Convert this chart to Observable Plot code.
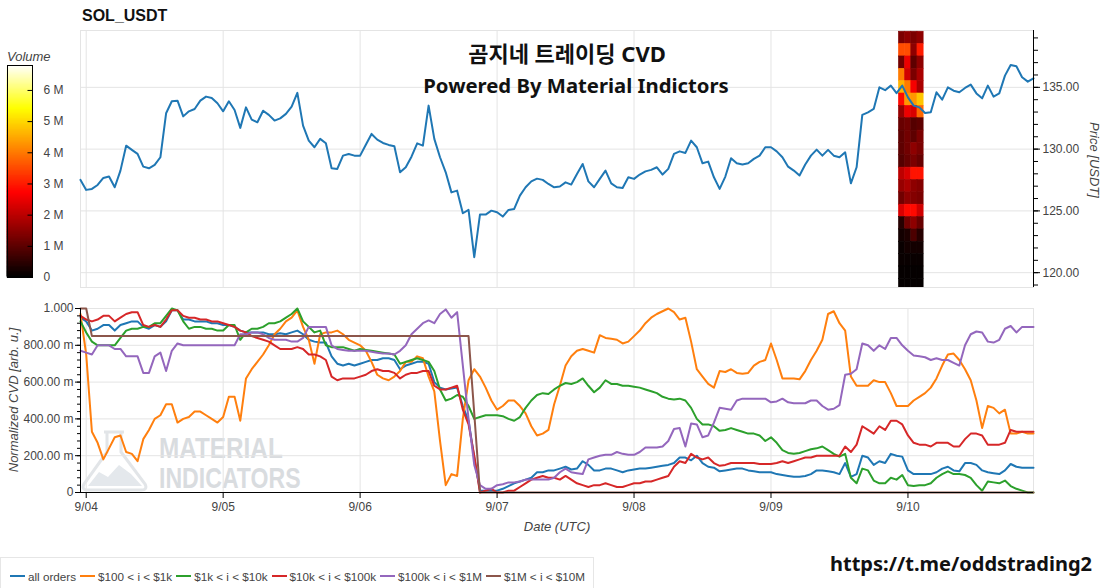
<!DOCTYPE html>
<html><head><meta charset="utf-8">
<script src="https://cdn.jsdelivr.net/npm/d3@7"></script>
<script src="https://cdn.jsdelivr.net/npm/@observablehq/plot@0.6"></script>
<style>
body{margin:0;background:#fff;}
#wrap{position:relative;width:1106px;height:588px;overflow:hidden;font-family:"Liberation Sans",Arial,sans-serif;background:#fff;}
#wrap > *{position:absolute;}
.t{white-space:nowrap;line-height:1;}
.leg{display:flex;align-items:center;font-size:11.7px;color:#444;white-space:nowrap;width:max-content;}
.leg span{flex:0 0 auto;}
.leg span.sw{display:inline-block;width:15px;height:2px;margin-right:3px;}
.leg span.lb{margin-right:4px;}
</style></head><body>
<div id="wrap">
  <div id="cbar" style="left:0;top:0;"></div>
  <div id="topchart" style="left:0;top:0;"></div>
  <div id="wm" style="left:0;top:0;width:320px;height:500px;">
    <svg width="320" height="500" style="position:absolute;left:0;top:0">
      <path d="M104,432 L124,432 M107,432 L107,452 L84,484 Q81,490 88,490 L141,490 Q148,490 145,484 L121,452 L121,432" fill="none" stroke="#e2e5e8" stroke-width="3"/>
      <path d="M88,486 L99,472 L108,477 L119,465 L131,474 L142,486 Z" fill="#e4e8ec"/>
    </svg>
    <div class="t" style="position:absolute;left:159px;top:431px;font:bold 30px 'Liberation Sans',Arial;color:#d9dcdf;transform:scaleX(0.81);transform-origin:0 0;">MATERIAL</div>
    <div class="t" style="position:absolute;left:159px;top:461px;font:bold 30px 'Liberation Sans',Arial;color:#d9dcdf;transform:scaleX(0.77);transform-origin:0 0;">INDICATORS</div>
  </div>
  <div id="botchart" style="left:0;top:295px;"></div>
  <div class="t" style="left:82px;top:8px;font-weight:bold;font-size:16px;color:#111;">SOL_USDT</div>
  <div class="t" style="left:0;width:1134px;top:42px;text-align:center;font-family:'Noto Sans','Noto Sans CJK KR',sans-serif;font-weight:bold;font-size:22px;color:#111;">곰지네 트레이딩 CVD</div>
  <div class="t" style="left:0;width:1152px;top:75px;text-align:center;font-family:'Noto Sans','Noto Sans CJK KR',sans-serif;font-weight:bold;font-size:20.3px;color:#111;">Powered By Material Indictors</div>
  <div class="t" style="left:7px;top:50px;font-style:italic;font-size:13px;color:#444;">Volume</div>
  <div class="t" style="left:1094px;top:160px;transform:translate(-50%,-50%) rotate(90deg);font-style:italic;font-size:13px;color:#444;">Price [USDT]</div>
  <div class="t" style="left:13px;top:400px;transform:translate(-50%,-50%) rotate(-90deg);font-style:italic;font-size:13px;color:#444;">Normalized CVD [arb. u.]</div>
  <div class="t" style="left:557px;top:520px;transform:translateX(-50%);font-style:italic;font-size:13px;color:#444;">Date (UTC)</div>
  <div id="legend" style="left:0;top:557px;width:594px;height:34px;border:1px solid #e6e6e6;box-sizing:border-box;"></div>
  <div class="t" style="left:830px;top:554px;font-family:'Noto Sans',sans-serif;font-weight:bold;font-size:20px;color:#111;">https://t.me/oddstrading2</div>
</div>
<script>
// ---------- DATA ----------
const startUTC = Date.UTC(2024, 8, 3, 23); // first hourly sample: 9/03 23:00 UTC
const dayTicks = ["2024-09-04","2024-09-05","2024-09-06","2024-09-07","2024-09-08","2024-09-09","2024-09-10"];

const price = [127.51,126.70,126.78,127.10,127.67,127.78,126.91,128.26,130.28,129.94,
129.61,128.58,128.45,128.72,129.34,132.90,133.87,133.92,132.65,133.06,
133.25,133.92,134.25,134.14,133.71,133.06,133.87,133.17,131.72,133.38,
132.39,132.17,133.11,132.77,132.31,132.49,132.85,133.44,134.55,131.90,
130.69,130.15,130.83,130.47,128.45,128.40,129.47,129.61,129.47,129.47,
130.36,131.23,130.77,130.50,130.34,130.23,128.12,128.53,129.39,130.47,
130.28,133.52,130.83,129.34,128.12,126.50,126.64,124.81,125.08,121.25,
124.70,124.70,125.02,124.89,124.54,125.08,125.16,126.24,126.91,127.39,
127.61,127.51,127.18,126.91,126.97,127.31,127.13,127.99,128.80,127.39,
126.91,127.59,128.26,127.23,126.91,126.86,127.72,127.59,127.94,128.20,
128.32,128.53,127.94,128.40,129.61,129.82,129.69,130.69,130.15,128.85,
128.99,127.72,126.78,127.78,129.26,128.85,128.75,128.85,129.21,129.47,
130.15,130.15,129.82,129.34,128.58,128.26,127.86,128.75,129.47,129.96,
129.47,129.94,129.47,129.34,129.74,127.23,128.53,132.77,132.98,133.25,
135.00,134.77,135.14,134.53,135.14,134.19,133.52,133.38,132.93,132.98,
134.60,134.00,135.00,134.73,134.60,134.95,135.22,134.51,134.11,135.14,
134.25,134.51,135.95,136.81,136.70,135.81,135.46,135.73];

const cvdAll = [.95,.93,.88,.89,.91,.91,.88,.91,.92,.93,
.93,.90,.89,.91,.90,.93,.99,.99,.94,.94,
.93,.93,.93,.92,.92,.91,.91,.90,.88,.87,
.87,.87,.87,.86,.86,.865,.86,.87,.88,.86,
.83,.82,.815,.815,.74,.70,.69,.70,.69,.70,
.71,.72,.72,.73,.73,.72,.67,.69,.70,.71,
.71,.70,.60,.57,.56,.565,.57,.47,.39,.19,
.01,.01,.01,.01,.02,.035,.05,.06,.07,.08,
.11,.11,.12,.12,.13,.14,.125,.13,.17,.15,
.12,.12,.13,.13,.12,.11,.12,.125,.13,.13,
.135,.14,.145,.15,.16,.19,.19,.175,.20,.16,
.14,.135,.115,.12,.125,.13,.13,.12,.115,.11,
.11,.11,.10,.095,.09,.085,.085,.09,.10,.12,
.12,.115,.11,.10,.16,.085,.10,.20,.19,.15,
.17,.16,.21,.20,.195,.12,.10,.10,.10,.10,
.11,.13,.14,.12,.115,.16,.16,.15,.12,.11,
.105,.10,.12,.155,.14,.135,.135,.135];

const cvd100 = [.97,.75,.33,.27,.18,.24,.30,.31,.22,.21,
.17,.29,.34,.40,.42,.48,.48,.38,.40,.41,
.44,.44,.42,.40,.38,.41,.52,.52,.39,.62,
.67,.71,.75,.80,.86,.89,.93,.95,.99,.90,
.83,.70,.86,.87,.87,.88,.86,.83,.815,.80,
.77,.71,.64,.62,.61,.63,.66,.71,.71,.74,
.73,.63,.55,.28,.04,.10,.09,.40,.61,.67,
.63,.57,.50,.45,.47,.50,.50,.47,.43,.36,
.31,.32,.34,.48,.58,.69,.74,.77,.78,.77,
.76,.855,.84,.835,.83,.81,.82,.85,.88,.92,
.95,.97,.985,1.0,.98,.94,.95,.82,.67,.63,
.59,.57,.66,.655,.67,.65,.645,.65,.69,.71,
.72,.81,.72,.62,.62,.62,.615,.66,.72,.77,
.83,.97,.985,.92,.88,.63,.58,.58,.58,.61,
.60,.60,.54,.47,.47,.47,.50,.52,.54,.57,
.62,.69,.75,.755,.72,.67,.61,.50,.35,.47,
.46,.43,.45,.32,.32,.33,.32,.32];

const cvd1k = [.93,.87,.82,.80,.80,.80,.80,.84,.88,.89,
.89,.90,.90,.92,.92,.96,1.0,.99,.93,.89,
.90,.90,.89,.89,.88,.88,.91,.91,.83,.87,
.89,.89,.90,.92,.92,.93,.95,.97,1.0,.93,
.90,.87,.88,.80,.79,.79,.79,.78,.77,.78,
.775,.77,.765,.76,.755,.75,.70,.71,.72,.73,
.72,.71,.66,.56,.50,.51,.53,.52,.47,.40,
.41,.42,.42,.42,.415,.40,.39,.41,.46,.50,
.53,.54,.535,.56,.58,.595,.59,.60,.62,.58,
.545,.57,.61,.59,.59,.58,.58,.575,.57,.56,
.55,.54,.52,.51,.505,.51,.50,.46,.40,.37,
.37,.36,.335,.34,.35,.34,.33,.32,.32,.31,
.28,.30,.27,.23,.215,.21,.215,.225,.235,.24,
.25,.23,.21,.195,.21,.08,.05,.13,.12,.065,
.05,.05,.08,.07,.095,.04,.035,.04,.04,.05,
.08,.10,.115,.10,.10,.095,.08,.04,.01,.06,
.055,.05,.065,.035,.02,.01,0,0];

const cvd10k = [.96,.94,.93,.94,.96,.96,.93,.95,.97,.98,
.98,.91,.90,.91,.90,.94,.99,.99,.96,.95,
.95,.94,.94,.93,.93,.92,.91,.90,.88,.87,
.85,.84,.83,.82,.80,.78,.78,.78,.79,.78,
.75,.75,.74,.72,.63,.61,.62,.62,.62,.63,
.64,.66,.67,.66,.66,.65,.62,.64,.65,.65,
.66,.66,.58,.56,.56,.57,.58,.45,.37,.20,
0,.01,.02,0,0,.01,.01,.03,.05,.07,
.08,.09,.08,.08,.07,.09,.07,.05,.04,.03,
.04,.04,.05,.04,.03,.03,.04,.05,.05,.06,
.06,.07,.08,.09,.14,.17,.16,.21,.19,.18,
.19,.16,.145,.15,.16,.16,.16,.16,.16,.155,
.155,.155,.16,.17,.16,.17,.18,.19,.19,.20,
.20,.20,.20,.20,.25,.22,.26,.36,.34,.32,
.36,.34,.39,.39,.37,.31,.27,.26,.26,.25,
.27,.27,.27,.25,.25,.29,.32,.32,.31,.26,
.26,.26,.27,.34,.33,.33,.33,.33];

const cvd100k = [.77,.76,.75,.80,.80,.80,.78,.78,.74,.74,
.74,.65,.65,.74,.76,.66,.77,.81,.80,.80,
.80,.80,.80,.80,.80,.80,.80,.80,.86,.86,
.87,.87,.86,.84,.83,.83,.83,.82,.82,.84,
.90,.90,.90,.90,.80,.78,.775,.77,.77,.77,
.77,.765,.76,.755,.755,.75,.77,.80,.86,.89,
.92,.935,.92,.97,.995,.95,.98,.69,.40,.15,
.04,.02,.02,.04,.045,.055,.055,.06,.07,.07,
.07,.07,.07,.08,.11,.13,.11,.105,.10,.18,
.19,.20,.205,.205,.22,.21,.205,.205,.22,.245,
.245,.245,.25,.28,.345,.35,.25,.375,.37,.30,
.31,.38,.46,.455,.45,.50,.51,.51,.51,.51,
.51,.49,.495,.51,.49,.485,.485,.485,.50,.50,
.47,.45,.455,.475,.64,.645,.67,.81,.80,.77,
.80,.78,.84,.84,.80,.77,.745,.74,.735,.72,
.73,.72,.72,.705,.69,.80,.86,.875,.87,.82,
.815,.83,.89,.905,.87,.90,.90,.90];

const cvd1M = [1,1,.85,.85,.85,.85,.85,.85,.85,.85,
.85,.85,.85,.85,.85,.85,.85,.85,.85,.85,
.85,.85,.85,.85,.85,.85,.85,.85,.85,.85,
.85,.85,.85,.85,.85,.85,.85,.85,.85,.85,
.85,.85,.85,.85,.85,.85,.85,.85,.85,.85,
.85,.85,.85,.85,.85,.85,.85,.85,.85,.85,
.85,.85,.85,.85,.85,.85,.85,.85,.85,.43,
0,0,0,0,0,0,0,0,0,0,
0,0,0,0,0,0,0,0,0,0,
0,0,0,0,0,0,0,0,0,0,
0,0,0,0,0,0,0,0,0,0,
0,0,0,0,0,0,0,0,0,0,
0,0,0,0,0,0,0,0,0,0,
0,0,0,0,0,0,0,0,0,0,
0,0,0,0,0,0,0,0,0,0,
0,0,0,0,0,0,0,0,0,0,
0,0,0,0,0,0,0,0];

const seriesNames = ["all orders", "$100 < i < $1k", "$1k < i < $10k", "$10k < i < $100k", "$100k < i < $1M", "$1M < i < $10M"];

// volume profile (millions) — rows are price levels (USDT), columns are time slices
const heatPrices = [139,138,137,136,135,134,133,132,131,130,129,128,127,126,125,124,123,122,121,120,119];
const heatColEdges = ["2024-09-09T22:25Z","2024-09-09T23:30Z","2024-09-10T00:35Z","2024-09-10T01:40Z","2024-09-10T02:45Z"];
const heatVolume = [
 [1.3,1.5,1.3,1.5],
 [3.5,3.5,1.5,3.0],
 [1.2,2.5,1.0,1.5],
 [4.0,2.2,1.3,1.8],
 [4.6,4.0,2.6,1.8],
 [2.8,4.3,4.3,4.8],
 [1.6,2.5,2.3,3.8],
 [1.1,1.2,0.9,1.0],
 [1.0,1.2,1.0,1.3],
 [1.0,1.2,1.5,1.3],
 [0.9,1.1,1.3,1.1],
 [2.0,2.3,2.9,2.9],
 [1.6,1.8,1.5,1.4],
 [1.2,1.5,1.4,1.3],
 [2.3,2.8,2.8,2.2],
 [0.4,1.2,1.5,1.1],
 [0.2,0.3,0.8,0.4],
 [0.1,0.2,0.2,0.2],
 [0.1,0.1,0.1,0.1],
 [0.05,0.05,0.05,0.05],
 [0.05,0.05,0.05,0.05]
];

const priceTicks = [120,125,130,135];
const priceTickLabels = ["120.00","125.00","130.00","135.00"];
const cvdTicks = [0,0.2,0.4,0.6,0.8,1];
const cvdTickLabels = ["0","200.00 m","400.00 m","600.00 m","800.00 m","1.000"];
const volumeTicks = [0,1,2,3,4,5,6];
const volumeTickLabels = ["0","1 M","2 M","3 M","4 M","5 M","6 M"];

// ---------- STYLE ----------
const seriesColors = ["#1f77b4","#ff7f0e","#2ca02c","#d62728","#9467bd","#8c564b"];
const GRID = "#e4e4e4";
const volColorDomain = [0, 2.7, 5.4, 6.8];
const volColorRange = ["#000000","#ff0000","#ffff00","#ffffff"];
const baseStyle = {background:"transparent", fontFamily:"'Liberation Sans', Arial, sans-serif", fontSize:"12px", color:"#444", overflow:"visible"};

// ---------- BUILD ----------
const HOUR = 3600 * 1000;
const tAt = i => new Date(startUTC + i * HOUR);
const xDomain = [tAt(0), tAt(price.length - 1)];
const dayDates = dayTicks.map(s => new Date(s + "T00:00:00Z"));
const fmtDay = d3.utcFormat("%-m/%d");

const heatData = [];
heatVolume.forEach((row, i) => row.forEach((v, j) => heatData.push({
  x1: new Date(heatColEdges[j]), x2: new Date(heatColEdges[j + 1]),
  y1: heatPrices[i] - 0.5, y2: heatPrices[i] + 0.5, v
})));

const colorOpt = {type: "linear", domain: volColorDomain, range: volColorRange, clamp: true};

const topChart = Plot.plot({
  width: 1106, height: 300, marginLeft: 80, marginRight: 73, marginTop: 30, marginBottom: 13,
  style: baseStyle,
  x: {type: "utc", domain: xDomain, axis: null},
  y: {domain: [118.8, 139.6], label: null},
  color: colorOpt,
  marks: [
    Plot.ruleX(dayDates, {stroke: GRID}),
    Plot.ruleY(priceTicks, {stroke: GRID}),
    Plot.frame({stroke: GRID}),
    Plot.rect(heatData, {x1: "x1", x2: "x2", y1: "y1", y2: "y2", fill: "v", stroke: "v", strokeWidth: 0.6, clip: true}),
    Plot.line(price, {x: (d, i) => tAt(i), y: d => d, stroke: seriesColors[0], strokeWidth: 2}),
    Plot.ruleX([xDomain[1]], {stroke: "#000"}),
    Plot.axisY(d3.range(119, 140), {anchor: "right", tickSize: 4, tickFormat: () => "", stroke: "#000", label: null}),
    Plot.axisY(priceTicks, {anchor: "right", tickSize: 6, tickPadding: 3, tickFormat: d => priceTickLabels[priceTicks.indexOf(d)], stroke: "#000", fill: "#444", label: null})
  ]
});
document.getElementById("topchart").appendChild(topChart);

const volSteps = d3.range(0, 6.8, 0.04);
const cbar = Plot.plot({
  width: 80, height: 290, marginLeft: 7, marginRight: 48, marginTop: 65, marginBottom: 13,
  style: baseStyle,
  x: {domain: [0, 1], axis: null},
  y: {domain: [0, 6.8], label: null},
  color: colorOpt,
  marks: [
    Plot.rect(volSteps, {x1: 0, x2: 1, y1: d => d, y2: d => Math.min(6.8, d + 0.06), fill: d => d, stroke: d => d, strokeWidth: 0.8}),
    Plot.ruleY(volumeTicks.slice(1), {x1: 0.82, x2: 1, stroke: "#000"}),
    Plot.frame({stroke: "#000"}),
    Plot.axisY(volumeTicks, {anchor: "right", tickSize: 0, tickPadding: 11, tickFormat: d => volumeTickLabels[d], fill: "#444", label: null})
  ]
});
document.getElementById("cbar").appendChild(cbar);

const seriesList = [cvdAll, cvd100, cvd1k, cvd10k, cvd100k, cvd1M];
const botChart = Plot.plot({
  width: 1106, height: 245, marginLeft: 80, marginRight: 73, marginTop: 13, marginBottom: 48,
  style: baseStyle,
  x: {type: "utc", domain: xDomain, label: null},
  y: {domain: [0, 1], label: null},
  marks: [
    Plot.ruleX(dayDates, {stroke: GRID}),
    Plot.ruleY(cvdTicks, {stroke: GRID}),
    Plot.frame({stroke: GRID}),
    ...seriesList.map((s, j) => Plot.line(s, {x: (d, i) => tAt(i), y: d => d, stroke: seriesColors[j], strokeWidth: 2})),
    Plot.ruleX([xDomain[0]], {stroke: "#000"}),
    Plot.ruleY([0], {stroke: "#000"}),
    Plot.axisY(d3.range(0, 1.0001, 0.04), {anchor: "left", tickSize: 3, tickFormat: () => "", stroke: "#000", label: null}),
    Plot.axisY(cvdTicks, {anchor: "left", tickSize: 5, tickPadding: 2, tickFormat: d => cvdTickLabels[cvdTicks.indexOf(d)], stroke: "#000", fill: "#444", label: null}),
    Plot.axisX(dayDates, {anchor: "bottom", tickSize: 6, tickPadding: 4, tickFormat: fmtDay, stroke: "#000", fill: "#444", label: null})
  ]
});
document.getElementById("botchart").appendChild(botChart);

// legend
const leg = d3.select("#legend").append("div").attr("class", "leg")
  .style("position", "absolute").style("left", "9px").style("top", "11px").style("height", "14px");
seriesNames.forEach((n, j) => {
  leg.append("span").attr("class", "sw").style("background", seriesColors[j]);
  leg.append("span").attr("class", "lb").text(n);
});
</script>
</body></html>
